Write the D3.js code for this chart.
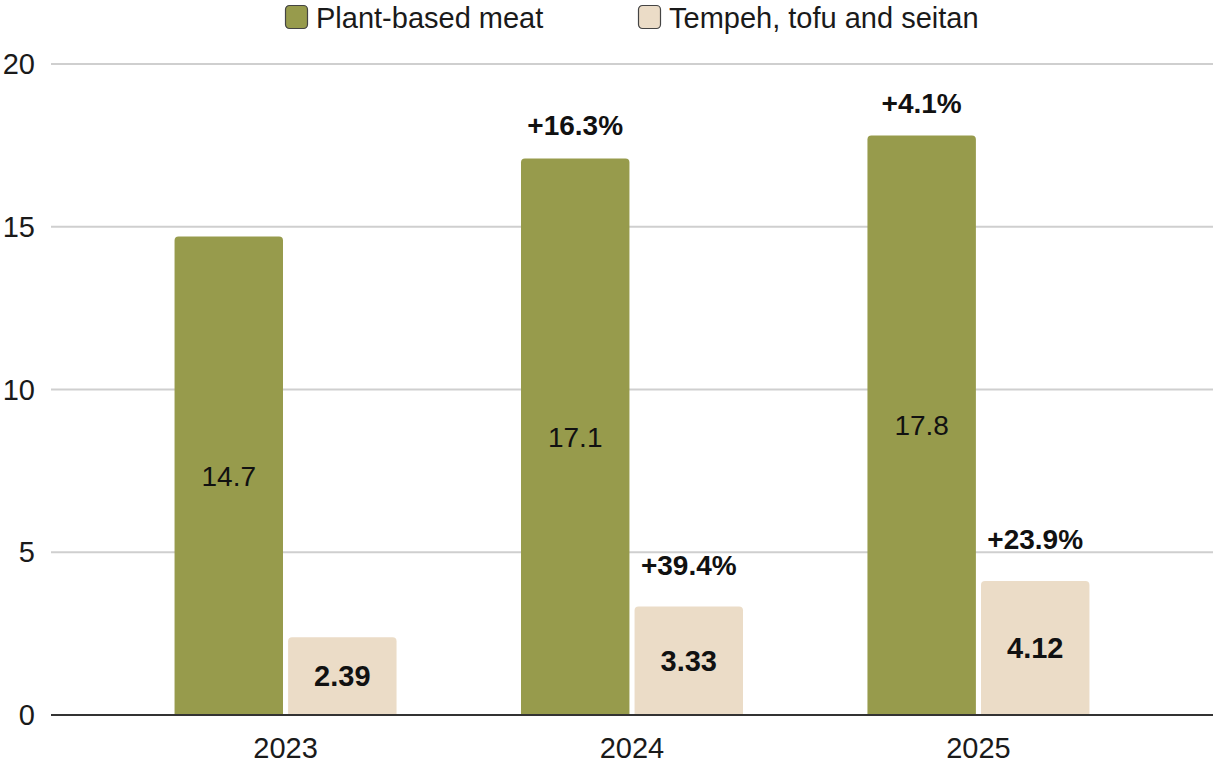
<!DOCTYPE html>
<html>
<head>
<meta charset="utf-8">
<script src="https://cdn.jsdelivr.net/npm/d3@7"></script>
<style>
  body { margin: 0; background: #fff; }
  svg { display: block; }
</style>
</head>
<body>
<div id="chart"></div>
<script>
// chart data
var years = ["2023", "2024", "2025"];
var seriesNames = ["Plant-based meat", "Tempeh, tofu and seitan"];
var plantMeat = [14.7, 17.1, 17.8];
var tempeh = [2.39, 3.33, 4.12];
var plantGrowth = [null, "+16.3%", "+4.1%"];
var tempehGrowth = [null, "+39.4%", "+23.9%"];
var yTicks = [0, 5, 10, 15, 20];

var colors = ["#979b4c", "#ebdcc7"];
var font = "'Liberation Sans', Arial, sans-serif";
var width = 1213, height = 763;

var rows = [];
years.forEach(function (y, i) {
    rows.push({ year: y, key: 0, value: plantMeat[i], label: String(plantMeat[i]), growth: plantGrowth[i] });
    rows.push({ year: y, key: 1, value: tempeh[i], label: String(tempeh[i]), growth: tempehGrowth[i] });
});

var svg = d3.select("#chart")
    .append("svg")
    .attr("width", width)
    .attr("height", height);

// scales
var xScale = d3.scaleBand()
    .domain(years)
    .range([51, 1213])
    .paddingInner(0)
    .paddingOuter(0.177);

var groupWidth = 222;
var xInner = d3.scaleBand()
    .domain([0, 1])
    .range([0, groupWidth])
    .paddingInner(0.045);

var yScale = d3.scaleLinear()
    .domain([0, 20])
    .range([715, 64]);

// grid lines
svg.append("g")
    .selectAll("line")
    .data(yTicks.filter(function (d) { return d > 0; }))
    .enter().append("line")
    .attr("x1", 51)
    .attr("x2", 1213)
    .attr("y1", function (d) { return yScale(d); })
    .attr("y2", function (d) { return yScale(d); })
    .attr("stroke", "#cfcfcf")
    .attr("stroke-width", 2);

// y tick labels
svg.append("g")
    .selectAll("text")
    .data(yTicks)
    .enter().append("text")
    .attr("x", 35)
    .attr("y", function (d) { return yScale(d) + 10; })
    .attr("text-anchor", "end")
    .style("font-family", font)
    .style("font-size", "29px")
    .attr("fill", "#1a1a1a")
    .text(function (d) { return d; });

function groupLeft(d) {
    return xScale(d.year) + xScale.bandwidth() / 2 - groupWidth / 2 + xInner(d.key);
}

// bars with rounded top corners
function barPath(d) {
    var x = groupLeft(d), w = xInner.bandwidth();
    var y0 = yScale(0), y1 = yScale(d.value), r = 4;
    return "M" + x + "," + y0 +
        "V" + (y1 + r) +
        "Q" + x + "," + y1 + " " + (x + r) + "," + y1 +
        "H" + (x + w - r) +
        "Q" + (x + w) + "," + y1 + " " + (x + w) + "," + (y1 + r) +
        "V" + y0 + "Z";
}

svg.append("g")
    .selectAll("path")
    .data(rows)
    .enter().append("path")
    .attr("d", barPath)
    .attr("fill", function (d) { return colors[d.key]; });

// baseline
svg.append("line")
    .attr("x1", 51)
    .attr("x2", 1213)
    .attr("y1", yScale(0))
    .attr("y2", yScale(0))
    .attr("stroke", "#333")
    .attr("stroke-width", 2);

// value labels inside bars
svg.append("g")
    .selectAll("text")
    .data(rows)
    .enter().append("text")
    .attr("x", function (d) { return groupLeft(d) + xInner.bandwidth() / 2; })
    .attr("y", function (d) { return (yScale(d.value) + yScale(0)) / 2 + 10; })
    .attr("text-anchor", "middle")
    .style("font-family", font)
    .style("font-size", function (d) { return d.key === 1 ? "29px" : "28px"; })
    .style("font-weight", function (d) { return d.key === 1 ? "bold" : "normal"; })
    .attr("fill", "#111")
    .text(function (d) { return d.label; });

// growth labels above bars
svg.append("g")
    .selectAll("text")
    .data(rows.filter(function (d) { return d.growth; }))
    .enter().append("text")
    .attr("x", function (d) { return groupLeft(d) + xInner.bandwidth() / 2; })
    .attr("y", function (d) { return yScale(d.value) - (d.key === 1 ? 32 : 23); })
    .attr("text-anchor", "middle")
    .style("font-family", font)
    .style("font-size", "28px")
    .style("font-weight", "bold")
    .attr("fill", "#111")
    .text(function (d) { return d.growth; });

// x axis labels
svg.append("g")
    .selectAll("text")
    .data(years)
    .enter().append("text")
    .attr("x", function (d) { return xScale(d) + xScale.bandwidth() / 2; })
    .attr("y", 758)
    .attr("text-anchor", "middle")
    .style("font-family", font)
    .style("font-size", "29px")
    .attr("fill", "#1a1a1a")
    .text(function (d) { return d; });

// legend
var legendX = [285, 638];
var legend = svg.append("g")
    .selectAll("g")
    .data(seriesNames)
    .enter().append("g")
    .attr("transform", function (d, i) { return "translate(" + legendX[i] + ",5)"; });

legend.append("rect")
    .attr("x", 0.5)
    .attr("y", 0.5)
    .attr("width", 22)
    .attr("height", 23)
    .attr("rx", 4)
    .attr("fill", function (d, i) { return colors[i]; })
    .attr("stroke", "#444")
    .attr("stroke-width", 1.2);

legend.append("text")
    .attr("x", 31)
    .attr("y", 23)
    .style("font-family", font)
    .style("font-size", "29px")
    .attr("fill", "#1a1a1a")
    .text(function (d) { return d; });
</script>
</body>
</html>
